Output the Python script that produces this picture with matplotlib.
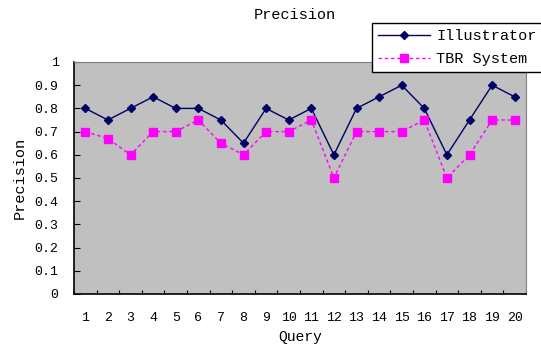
import numpy as np
import matplotlib
matplotlib.use("Agg")
import matplotlib.pyplot as plt

queries = list(range(1, 21))
illustrator = [0.80, 0.75, 0.80, 0.85, 0.80, 0.80, 0.75, 0.65, 0.80, 0.75,
               0.80, 0.60, 0.80, 0.85, 0.90, 0.80, 0.60, 0.75, 0.90, 0.85]
tbr_system = [0.70, 0.67, 0.60, 0.70, 0.70, 0.75, 0.65, 0.60, 0.70, 0.70,
              0.75, 0.50, 0.70, 0.70, 0.70, 0.75, 0.50, 0.60, 0.75, 0.75]
yticks = [0, 0.1, 0.2, 0.3, 0.4, 0.5, 0.6, 0.7, 0.8, 0.9, 1]
ytick_labels = ["0", "0.1", "0.2", "0.3", "0.4", "0.5", "0.6", "0.7", "0.8", "0.9", "1"]

plt.rcParams["font.family"] = ["Liberation Mono", "DejaVu Sans Mono"]

W, H = 541, 352
fig = plt.figure(figsize=(W / 100, H / 100), dpi=100)
# plot area in pixels: left 74, right 526, top 62, bottom 294
ax = fig.add_axes([74 / W, 1 - 294 / H, (526 - 74) / W, (294 - 62) / H])
ax.set_facecolor("#C0C0C0")

x = np.arange(len(queries))
ax.plot(x, illustrator, color="#000066", lw=1.0, marker="D", ms=4.5,
        mfc="#000066", mec="#000066", label="Illustrator")
ax.plot(x, tbr_system, color="#FF00FF", lw=1.0, ls=(0, (2.5, 2)), marker="s",
        ms=5.5, mfc="#FF00FF", mec="#FF00FF", label="TBR System")

ax.set_xlim(-0.5, len(queries) - 0.5)
ax.set_ylim(0, 1)
ax.set_yticks(yticks)
ax.set_yticklabels(ytick_labels, fontsize=9.5)
# category labels centred, tick marks on the category boundaries
ax.set_xticks(x)
ax.set_xticklabels([str(q) for q in queries], fontsize=9.5)
ax.set_xticks(np.arange(len(queries) + 1) - 0.5, minor=True)
ax.tick_params(axis="x", which="major", length=0, pad=13)
ax.tick_params(axis="x", which="minor", direction="in", length=3, width=0.8)
ax.tick_params(axis="y", direction="in", length=4, width=0.8, pad=11)

for side in ("top", "right"):
    ax.spines[side].set_color("#808080")
for side in ("left", "bottom"):
    ax.spines[side].set_color("black")
    ax.spines[side].set_linewidth(1.2)

ax.set_xlabel("Query", fontsize=10.5, labelpad=4)
ax.set_ylabel("Precision", fontsize=11, labelpad=6)
fig.text(295 / W, 1 - 15 / H, "Precision", fontsize=11, ha="center", va="center")

leg = fig.legend(loc="upper left", bbox_to_anchor=(372 / W, 1 - 23 / H),
                 fontsize=11, frameon=True, fancybox=False, edgecolor="black",
                 framealpha=1, handlelength=3.4, handletextpad=0.4,
                 borderpad=0.4, labelspacing=0.6, borderaxespad=0)
leg.get_frame().set_linewidth(1.0)

fig.savefig("out.png", dpi=100)
